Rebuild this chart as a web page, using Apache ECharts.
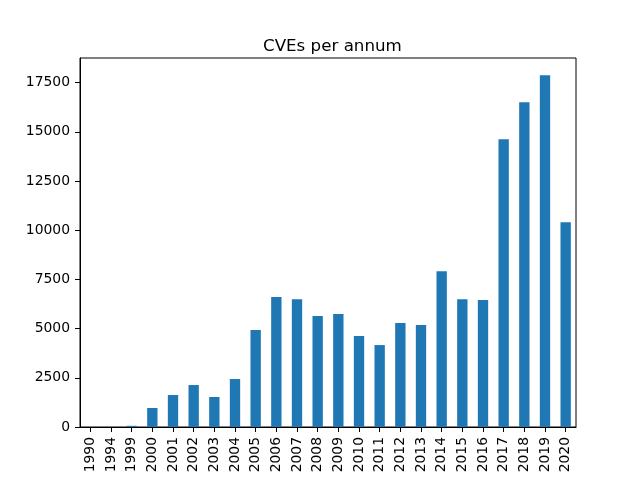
<!DOCTYPE html>
<html>
<head>
<meta charset="utf-8">
<script src="https://cdn.jsdelivr.net/npm/echarts@6/dist/echarts.min.js"></script>
<style>
html, body { margin: 0; padding: 0; background: #fff; }
#chartContainer { width: 640px; height: 480px; }
</style>
</head>
<body>
<div id="chartContainer"></div>
<script>
var years = ['1990', '1994', '1999', '2000', '2001', '2002', '2003', '2004', '2005', '2006', '2007', '2008',
	'2009', '2010', '2011', '2012', '2013', '2014', '2015', '2016', '2017', '2018', '2019', '2020'];
var cveCounts = [1, 2, 60, 964, 1624, 2132, 1523, 2437, 4924, 6599, 6497, 5635,
	5736, 4619, 4162, 5279, 5178, 7919, 6497, 6447, 14619, 16497, 17868, 10406];
var yTicks = [0, 2500, 5000, 7500, 10000, 12500, 15000, 17500];

var option = null;

function initOption() {
	var font = 'DejaVu Sans';
	option = {
		animation: false,
		backgroundColor: '#ffffff',
		title: {
			text: 'CVEs per annum',
			left: 258,
			top: 33,
			textStyle: {
				fontFamily: font,
				fontSize: 16.7,
				fontWeight: 'normal',
				color: '#000'
			}
		},
		grid: {
			left: 80,
			right: 64,
			top: 58,
			bottom: 53,
			show: true,
			borderColor: '#000',
			borderWidth: 1
		},
		xAxis: {
			type: 'category',
			data: years,
			boundaryGap: true,
			axisLine: { lineStyle: { color: '#000', width: 1 } },
			axisTick: { show: true, interval: 0, alignWithLabel: true, length: 5, lineStyle: { color: '#000', width: 1 } },
			axisLabel: {
				rotate: 90,
				interval: 0,
				margin: 10,
				color: '#000',
				fontFamily: font,
				fontSize: 13.9
			},
			splitLine: { show: false }
		},
		yAxis: {
			type: 'value',
			min: 0,
			max: 18748,
			axisLine: { show: true, lineStyle: { color: '#000', width: 1 } },
			axisTick: { show: true, length: 5, customValues: yTicks, lineStyle: { color: '#000' } },
			axisLabel: {
				margin: 10,
				customValues: yTicks,
				formatter: function(v) { return String(v); },
				color: '#000',
				fontFamily: font,
				fontSize: 13.9
			},
			splitLine: { show: false }
		},
		series: [ {
			type: 'bar',
			data: cveCounts,
			barWidth: '50%',
			itemStyle: { color: '#1f77b4' }
		} ]
	};
}

initOption();
var chartContainer = echarts.init(document.getElementById('chartContainer'));
chartContainer.setOption(option);
</script>
</body>
</html>
